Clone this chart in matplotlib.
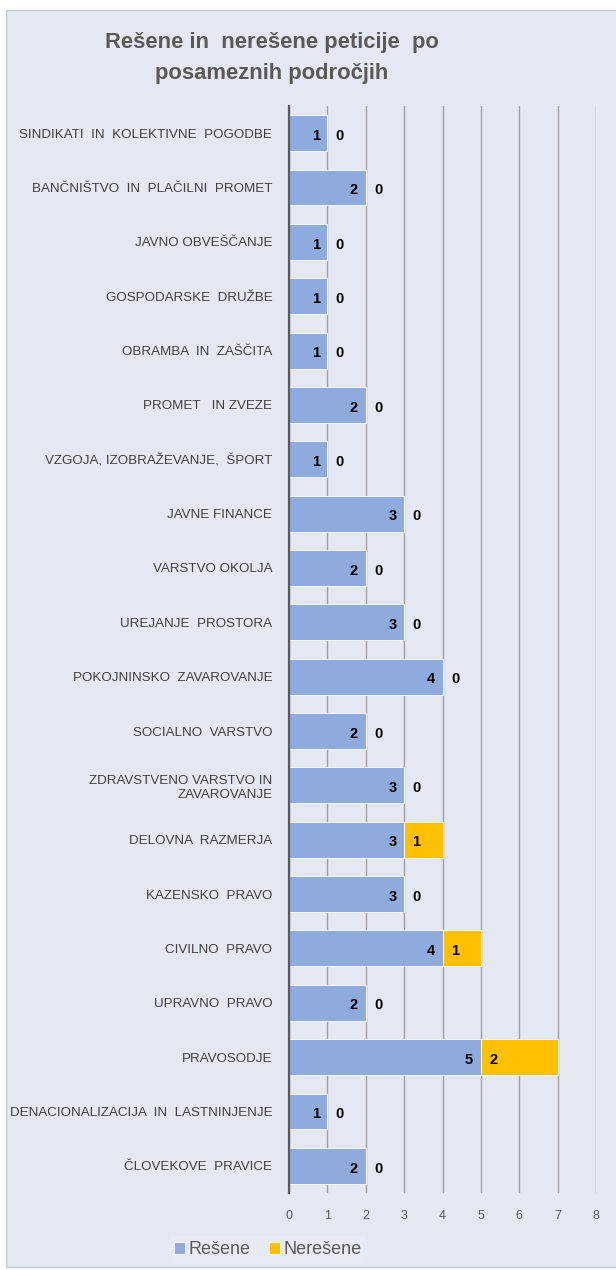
import matplotlib.pyplot as plt
from matplotlib.patches import Rectangle

plt.rcParams['font.family'] = ['Liberation Sans', 'DejaVu Sans']

categories = [
    'SINDIKATI  IN  KOLEKTIVNE  POGODBE',
    'BANČNIŠTVO  IN  PLAČILNI  PROMET',
    'JAVNO OBVEŠČANJE',
    'GOSPODARSKE  DRUŽBE',
    'OBRAMBA  IN  ZAŠČITA',
    'PROMET   IN ZVEZE',
    'VZGOJA, IZOBRAŽEVANJE,  ŠPORT',
    'JAVNE FINANCE',
    'VARSTVO OKOLJA',
    'UREJANJE  PROSTORA',
    'POKOJNINSKO  ZAVAROVANJE',
    'SOCIALNO  VARSTVO',
    'ZDRAVSTVENO VARSTVO IN\nZAVAROVANJE',
    'DELOVNA  RAZMERJA',
    'KAZENSKO  PRAVO',
    'CIVILNO  PRAVO',
    'UPRAVNO  PRAVO',
    'PRAVOSODJE',
    'DENACIONALIZACIJA  IN  LASTNINJENJE',
    'ČLOVEKOVE  PRAVICE',
]
resene = [1, 2, 1, 1, 1, 2, 1, 3, 2, 3, 4, 2, 3, 3, 3, 4, 2, 5, 1, 2]
neresene = [0, 0, 0, 0, 0, 0, 0, 0, 0, 0, 0, 0, 0, 1, 0, 1, 0, 2, 0, 0]
xticks = [0, 1, 2, 3, 4, 5, 6, 7, 8]

bg = '#E3E8F3'
blue = '#8FAADC'
orange = '#FFC000'

fig = plt.figure(figsize=(6.16, 12.7), dpi=100, facecolor='white')
fig.patches.append(Rectangle((6 / 616, 0.002), 1, 1 - 10 / 1270 - 0.002, transform=fig.transFigure,
                             facecolor=bg, edgecolor='#C8C8C8', linewidth=1, zorder=-10))

ax = fig.add_axes([289 / 616, 1 - 1193 / 1270, (596 - 289) / 616, (1193 - 106) / 1270])
ax.set_zorder(1)
ax.patch.set_alpha(0)

y = list(range(len(categories)))
ax.barh(y, resene, height=0.66, color=blue, edgecolor='white', linewidth=0.6, zorder=3, label='Rešene')
ax.barh(y, neresene, left=resene, height=0.66, color=orange, edgecolor='white', linewidth=0.6, zorder=3,
        label='Nerešene')

for i in y:
    ax.text(resene[i] - 0.2, i + 0.05, str(resene[i]), ha='right', va='center',
            fontsize=10.5, fontweight='bold', color='black', zorder=4)
    ax.text(resene[i] + 0.22, i + 0.05, str(neresene[i]), ha='left', va='center',
            fontsize=10.5, fontweight='bold', color='black', zorder=4)

ax.set_xlim(0, 8)
ax.set_ylim(len(categories) - 0.5, -0.5)
ax.set_xticks(xticks)
ax.set_yticks(y)
ax.set_yticklabels(categories, fontsize=9.6, color='#404040')
ax.tick_params(axis='y', length=0, pad=12)
ax.tick_params(axis='x', length=0, pad=12, labelsize=9, labelcolor='#595959')
ax.grid(axis='x', color='#A0A0A0', linewidth=1, zorder=1)
for s in ['top', 'right', 'bottom']:
    ax.spines[s].set_visible(False)
ax.spines['left'].set_color('#595959')
ax.spines['left'].set_linewidth(1.6)
ax.spines['left'].set_zorder(5)

fig.text(272 / 616, 1 - 58 / 1270, 'Rešene in  nerešene peticije  po\nposameznih področjih', ha='center',
         va='center', fontsize=15.8, fontweight='bold', color='#595959', linespacing=1.6)

leg = fig.legend(loc='center', bbox_to_anchor=(268 / 616, 1 - 1250 / 1270), ncol=2, frameon=True,
                 fontsize=13, handlelength=0.6, handleheight=0.6, handletextpad=0.2, columnspacing=1.0,
                 borderpad=0.3)
leg.get_frame().set_facecolor('#E8ECF6')
leg.get_frame().set_edgecolor('none')
for t in leg.get_texts():
    t.set_color('#595959')

fig.savefig('out.png', dpi=100, facecolor='white')
